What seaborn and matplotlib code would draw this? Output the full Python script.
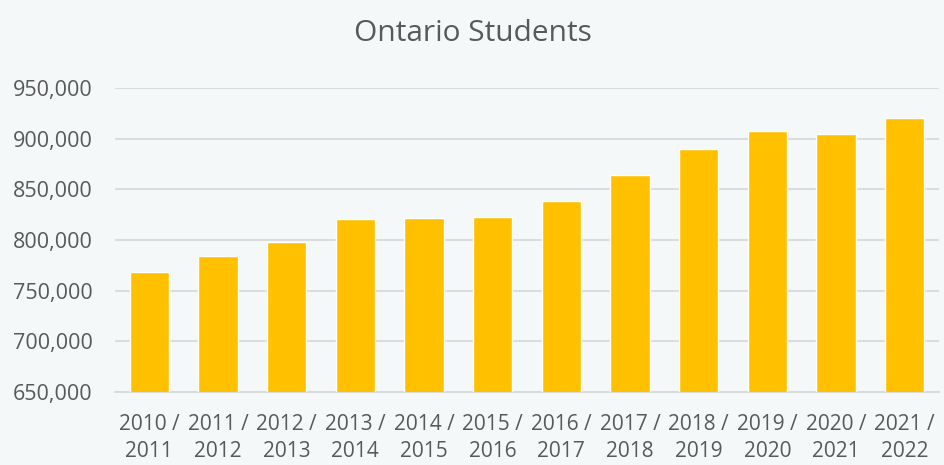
import matplotlib
matplotlib.use("Agg")
import matplotlib.pyplot as plt
import matplotlib.ticker as mticker
import seaborn as sns
import pandas as pd

years = ["2010 /\n2011", "2011 /\n2012", "2012 /\n2013", "2013 /\n2014", "2014 /\n2015",
         "2015 /\n2016", "2016 /\n2017", "2017 /\n2018", "2018 /\n2019", "2019 /\n2020",
         "2020 /\n2021", "2021 /\n2022"]
students = [768400, 784200, 798300, 820300, 821400, 822700,
            838000, 863800, 889800, 908000, 904300, 920600]
title = "Ontario Students"

df = pd.DataFrame({"year": years, "students": students})

sns.set_theme(style="white")
plt.rcParams["font.family"] = ["Open Sans", "DejaVu Sans"]

bg = "#F5F8F9"
fig = plt.figure(figsize=(9.45, 4.65), dpi=100, facecolor=bg)
ax = fig.add_axes([0.1217, 0.157, 0.8720, 0.6538])
ax.set_facecolor(bg)

sns.barplot(data=df, x="year", y="students", color="#FFC000", width=0.57,
            saturation=1, ax=ax, zorder=3)

ax.set_ylim(650000, 950000)
ax.yaxis.set_major_locator(mticker.MultipleLocator(50000))
ax.yaxis.set_major_formatter(mticker.FuncFormatter(lambda v, p: f"{int(v):,}"))
ax.grid(axis="y", color="#D9D9D9", linewidth=1.3, zorder=0)
ax.set_axisbelow(True)
for s in ["top", "right", "left"]:
    ax.spines[s].set_visible(False)
ax.spines["bottom"].set_color("#D9D9D9")
ax.spines["bottom"].set_linewidth(1.3)
ax.tick_params(axis="both", length=0, colors="#595959")
ax.tick_params(axis="y", pad=16, labelsize=15.5)
ax.tick_params(axis="x", pad=16, labelsize=15)
for lab in ax.get_xticklabels():
    lab.set_linespacing(1.35)
ax.set_xlabel("")
ax.set_ylabel("")
fig.text(0.5, 0.928, title, ha="center", va="center", fontsize=21.5, color="#595959")

fig.savefig("out.png", dpi=100, facecolor=bg)
